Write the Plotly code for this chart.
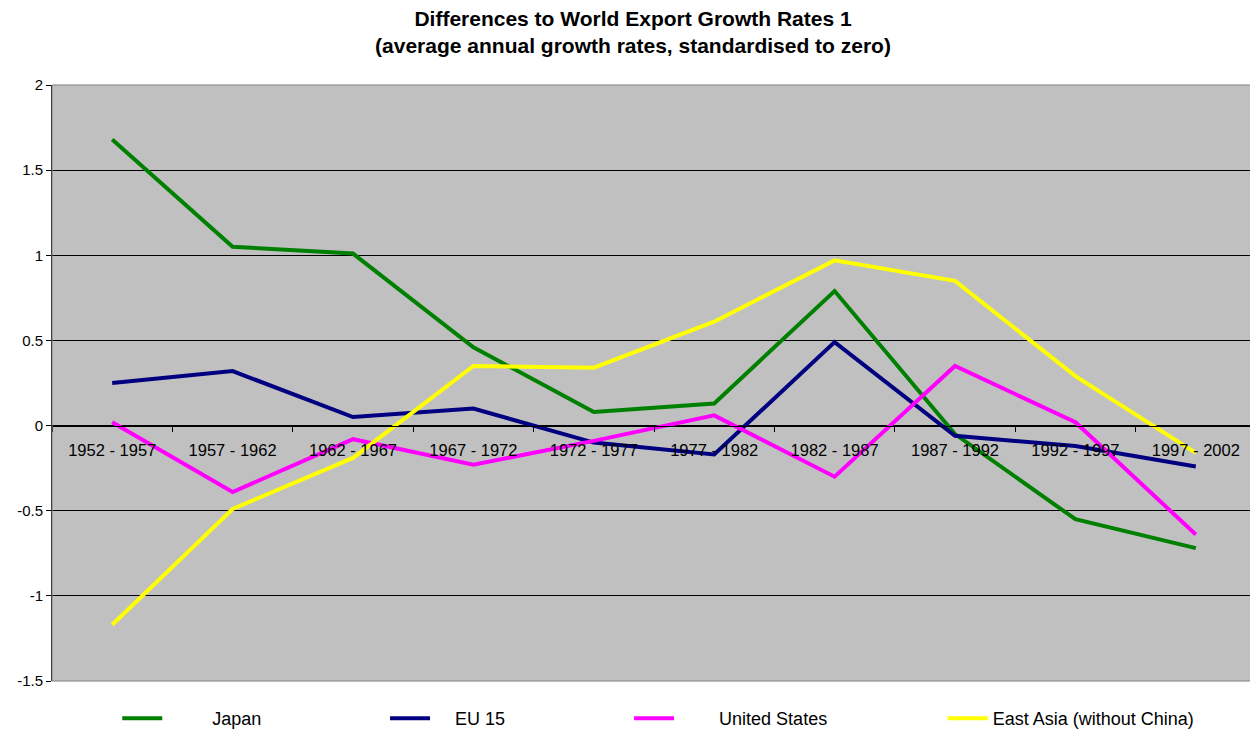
import plotly.graph_objects as go

categories = ["1952 - 1957", "1957 - 1962", "1962 - 1967", "1967 - 1972", "1972 - 1977",
              "1977 - 1982", "1982 - 1987", "1987 - 1992", "1992 - 1997", "1997 - 2002"]
japan = [1.68, 1.05, 1.01, 0.46, 0.08, 0.13, 0.79, -0.05, -0.55, -0.72]
eu15 = [0.25, 0.32, 0.05, 0.10, -0.10, -0.17, 0.49, -0.06, -0.12, -0.24]
united_states = [0.02, -0.39, -0.08, -0.23, -0.09, 0.06, -0.30, 0.35, 0.02, -0.64]
east_asia = [-1.17, -0.49, -0.19, 0.35, 0.34, 0.61, 0.97, 0.85, 0.29, -0.16]

y_tickvals = [-1.5, -1, -0.5, 0, 0.5, 1, 1.5, 2]
y_ticktext = ["-1.5", "-1", "-0.5", "0", "0.5", "1", "1.5", "2"]

FAM = "Liberation Sans, Arial, sans-serif"

series = [
    ("Japan", japan, "#008000", "legend2", 0.0542, 9),
    ("EU 15", eu15, "#000080", "legend3", 0.2766, 4),
    ("United States", united_states, "#FF00FF", "legend4", 0.4793, 8),
    ("East Asia (without China)", east_asia, "#FFFF00", "legend5", 0.7398, 0),
]

fig = go.Figure()
for name, vals, color, leg, _, pad in series:
    fig.add_trace(go.Scatter(
        x=categories, y=vals, mode="lines", name="\u00a0" * pad + name,
        line=dict(color=color, width=4), legend=leg))

ymin, ymax = -1.5, 2.0
W, H = 1250, 728

layout_legends = {}
for name, vals, color, leg, xpos, pad in series:
    layout_legends[leg] = dict(
        x=xpos, y=-0.032, xanchor="left", yanchor="top", orientation="h",
        bgcolor="rgba(0,0,0,0)", font=dict(family=FAM, size=18, color="black"),
        itemwidth=40)

fig.update_layout(
    width=W, height=H,
    margin=dict(l=44, r=2, t=77, b=55, autoexpand=False),
    paper_bgcolor="white", plot_bgcolor="#C0C0C0",
    font=dict(family=FAM, size=15, color="black"),
    title=dict(
        text="<b>Differences to World Export Growth Rates 1</b><br><b>(average annual growth rates, standardised to zero)</b>",
        x=0.5, xanchor="center", y=1 - 18 / H, yanchor="top",
        font=dict(family=FAM, size=21, color="black")),
    xaxis=dict(
        type="category", anchor="free", position=(0 - ymin) / (ymax - ymin),
        showline=True, linecolor="black", linewidth=1,
        ticks="outside", ticklen=5, tickcolor="black", tickson="boundaries",
        ticklabelstandoff=10,
        showgrid=False, zeroline=False, automargin=False,
        tickfont=dict(family=FAM, size=16.5, color="black"), range=[-0.5, 9.5]),
    yaxis=dict(
        range=[ymin, ymax], tickmode="array", tickvals=y_tickvals, ticktext=y_ticktext,
        showline=True, linecolor="black", linewidth=1,
        ticks="outside", ticklen=5, tickcolor="black", automargin=False,
        showgrid=True, gridcolor="black", gridwidth=1, zeroline=False,
        tickfont=dict(family=FAM, size=15, color="black")),
    shapes=[dict(type="rect", xref="paper", yref="paper", x0=0, x1=1, y0=0, y1=1,
                 line=dict(color="#808080", width=1), layer="above")],
    **layout_legends,
)

fig.write_html("out.html")
